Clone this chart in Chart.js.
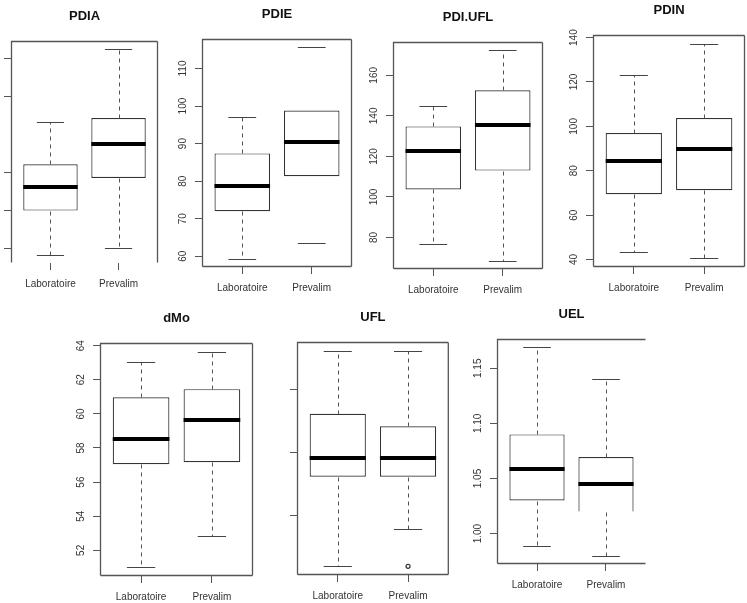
<!DOCTYPE html>
<html>
<head>
<meta charset="utf-8">
<script src="https://cdn.jsdelivr.net/npm/chart.js@4.4.1/dist/chart.umd.min.js"></script>
<style>
body{margin:0;background:#fff;width:747px;height:603px;position:relative;overflow:hidden}
.panel{position:absolute;overflow:hidden}
</style>
</head>
<body>
<script>
var groups = ['Laboratoire', 'Prevalim']

// min, q1, median, q3, max  (one row per group)
var pdia = [[58.4, 70.0, 76.2, 82.2, 93.2], [60.3, 78.6, 87.5, 94.3, 112.4]]
var pdie = [[59.4, 72.0, 78.6, 87.4, 97.0], [63.5, 81.3, 90.4, 98.8, 115.6]]
var pdiufl = [[77.0, 103.7, 122.5, 134.8, 144.7], [68.6, 113.0, 135.3, 152.6, 172.3]]
var pdin = [[43.2, 69.4, 84.3, 97.0, 123.3], [40.5, 71.2, 89.8, 103.8, 137.3]]
var dmo = [[51.0, 57.05, 58.5, 60.97, 63.05], [52.83, 57.17, 59.66, 61.45, 63.65]]
var ufl = [[0.810, 0.881, 0.896, 0.931, 0.981], [0.840, 0.881, 0.896, 0.921, 0.981]]
var uel = [[0.989, 1.030, 1.059, 1.090, 1.169], [0.980, 1.020, 1.045, 1.0695, 1.140]]
var uflOutliers = [[], [0.810]]

var pdiaTicks = [60, 70, 80, 100, 110]
var pdieTicks = [60, 70, 80, 90, 100, 110]
var pdiuflTicks = [80, 100, 120, 140, 160]
var pdinTicks = [40, 60, 80, 100, 120, 140]
var dmoTicks = [52, 54, 56, 58, 60, 62, 64]
var uflTicks = [0.85, 0.90, 0.95]
var uelTicks = [1.00, 1.05, 1.10, 1.15]

// frame = plot box in page pixels [left, top, right, bottom]
var panels = [
    {title: 'PDIA', stats: pdia, ticks: pdiaTicks, dec: 0, frame: [11, 41, 158, 263], labels: false, hide: ['bottom']},
    {title: 'PDIE', stats: pdie, ticks: pdieTicks, dec: 0, frame: [202, 39, 352, 267], noWhisker: [1]},
    {title: 'PDI.UFL', stats: pdiufl, ticks: pdiuflTicks, dec: 0, frame: [393, 42, 543, 269], clip: 293},
    {title: 'PDIN', stats: pdin, ticks: pdinTicks, dec: 0, frame: [593, 35, 745, 267]},
    {title: 'dMo', stats: dmo, ticks: dmoTicks, dec: 0, frame: [100, 343, 253, 576]},
    {title: 'UFL', stats: ufl, ticks: uflTicks, dec: 2, frame: [297, 342, 452, 575], labels: false, outliers: uflOutliers},
    {title: 'UEL', stats: uel, ticks: uelTicks, dec: 2, frame: [497, 339, 646, 564], hide: ['right'], openBottom: [1]}
]

var FONT = '"Liberation Sans", Arial, sans-serif'
Chart.defaults.font.family = FONT
Chart.defaults.font.size = 10

var AXW = 30, TOP = 36, BOT = 40

var boxPlugin = {
    id: 'boxplot',
    afterDatasetsDraw: function(chart) {
        var p = chart.options.plugins.boxplot
        var x = chart.scales.x, y = chart.scales.y, ctx = chart.ctx
        ctx.save()
        p.stats.forEach(function(s, i) {
            var cx = Math.round(x.getPixelForValue(i + 1)) + 0.5
            var capL = x.getPixelForValue(i + 0.8), capR = x.getPixelForValue(i + 1.2)
            var py = s.map(function(v) { return Math.round(y.getPixelForValue(v)) + 0.5 })
            ctx.lineWidth = 1
            if ((p.noWhisker || []).indexOf(i) < 0) {
                ctx.strokeStyle = '#555'
                ctx.setLineDash([4, 4])
                ctx.beginPath()
                ctx.moveTo(cx, py[3]); ctx.lineTo(cx, py[4])
                ctx.moveTo(cx, py[1]); ctx.lineTo(cx, py[0])
                ctx.stroke()
            }
            ctx.setLineDash([])
            ctx.strokeStyle = '#444'
            ctx.beginPath()
            ctx.moveTo(capL, py[4]); ctx.lineTo(capR, py[4])
            ctx.moveTo(capL, py[0]); ctx.lineTo(capR, py[0])
            ctx.stroke()
            // median
            ctx.strokeStyle = '#000'
            ctx.lineWidth = 4
            ctx.beginPath()
            ctx.moveTo(x.getPixelForValue(i + 0.6), py[2] - 0.5)
            ctx.lineTo(x.getPixelForValue(i + 1.4), py[2] - 0.5)
            ctx.stroke()
        })
        ctx.restore()
    },
    afterDraw: function(chart) {
        var p = chart.options.plugins.boxplot
        var a = chart.chartArea, ctx = chart.ctx
        var hide = p.hide || []
        ctx.save()
        ctx.strokeStyle = '#555'
        ctx.lineWidth = 1.3
        ctx.beginPath()
        var l = a.left + 0.5, r = a.right - 0.5, t = a.top + 0.5, b = a.bottom - 0.5
        ctx.moveTo(l, b); ctx.lineTo(l, t); ctx.lineTo(r, t)
        if (hide.indexOf('right') < 0) { ctx.moveTo(r, t); ctx.lineTo(r, b) }
        if (hide.indexOf('bottom') < 0) { ctx.moveTo(r, b); ctx.lineTo(l, b) }
        ctx.stroke()
        ctx.fillStyle = '#111'
        ctx.font = 'bold 13px ' + FONT
        ctx.textAlign = 'center'
        ctx.textBaseline = 'middle'
        ctx.fillText(p.title, (a.left + a.right) / 2, a.top - 25)
        ctx.restore()
    }
}

var mctx = document.createElement('canvas').getContext('2d')
mctx.font = '10px ' + FONT

panels.forEach(function(cfg) {
    var f = cfg.frame
    var w = f[2] - f[0], h = f[3] - f[1]
    var left = f[0] - AXW, top = f[1] - TOP
    var cw = w + AXW + 2, ch = TOP + h + BOT

    var div = document.createElement('div')
    div.className = 'panel'
    div.style.left = left + 'px'
    div.style.top = top + 'px'
    div.style.width = cw + 'px'
    div.style.height = (cfg.clip ? Math.min(ch, cfg.clip - top) : ch) + 'px'
    var cv = document.createElement('canvas')
    cv.width = cw; cv.height = ch
    cv.style.width = cw + 'px'; cv.style.height = ch + 'px'
    div.appendChild(cv)
    document.body.appendChild(div)

    // R style range: data extremes +/- 4%
    var all = []
    cfg.stats.forEach(function(s) { all = all.concat(s) })
    if (cfg.outliers) cfg.outliers.forEach(function(o) { all = all.concat(o) })
    var lo = Math.min.apply(null, all), hi = Math.max.apply(null, all)
    var span = hi - lo

    var widest = 0
    cfg.ticks.forEach(function(v) { widest = Math.max(widest, mctx.measureText(v.toFixed(cfg.dec)).width) })
    var pad = 19 - 7 - widest / 2

    var datasets = [{
        type: 'bar',
        data: cfg.stats.map(function(s, i) { return {x: i + 1, y: [s[1], s[3]]} }),
        backgroundColor: '#fff',
        borderColor: '#333',
        borderWidth: 1.2,
        borderSkipped: function(c) { return (cfg.openBottom || []).indexOf(c.dataIndex) >= 0 ? 'bottom' : false },
        barPercentage: 0.8,
        categoryPercentage: 1
    }]
    if (cfg.outliers) {
        var pts = []
        cfg.outliers.forEach(function(o, i) { o.forEach(function(v) { pts.push({x: i + 1, y: v}) }) })
        datasets.push({type: 'scatter', data: pts, pointRadius: 2, borderColor: '#333', backgroundColor: '#fff', borderWidth: 1.2})
    }

    new Chart(cv, {
        type: 'bar',
        data: {datasets: datasets},
        plugins: [boxPlugin],
        options: {
            responsive: false,
            animation: false,
            events: [],
            layout: {padding: {top: TOP, right: 2, left: 0, bottom: 0}},
            plugins: {
                legend: {display: false},
                tooltip: {enabled: false},
                boxplot: {title: cfg.title, stats: cfg.stats, hide: cfg.hide, noWhisker: cfg.noWhisker}
            },
            scales: {
                x: {
                    type: 'linear', min: 0.42, max: 2.58, offset: false,
                    afterBuildTicks: function(s) { s.ticks = groups.map(function(g, i) { return {value: i + 1} }) },
                    afterFit: function(s) { s.height = BOT },
                    grid: {drawOnChartArea: false, offset: false, tickLength: 7, color: '#555'},
                    border: {display: false},
                    ticks: {maxRotation: 0, autoSkip: false, padding: 8, color: '#333',
                        callback: function(v) { return groups[Math.round(v) - 1] }}
                },
                y: {
                    min: lo - 0.04 * span, max: hi + 0.04 * span,
                    afterBuildTicks: function(s) { s.ticks = cfg.ticks.map(function(v) { return {value: v} }) },
                    afterFit: function(s) { s.width = AXW },
                    grid: {drawOnChartArea: false, tickLength: 7, color: '#555'},
                    border: {display: false},
                    ticks: {minRotation: 90, maxRotation: 90, crossAlign: 'center', autoSkip: false, padding: pad,
                        color: cfg.labels === false ? 'rgba(0,0,0,0)' : '#333',
                        callback: function(v) { return v.toFixed(cfg.dec) }}
                }
            }
        }
    })
})
</script>
</body>
</html>
